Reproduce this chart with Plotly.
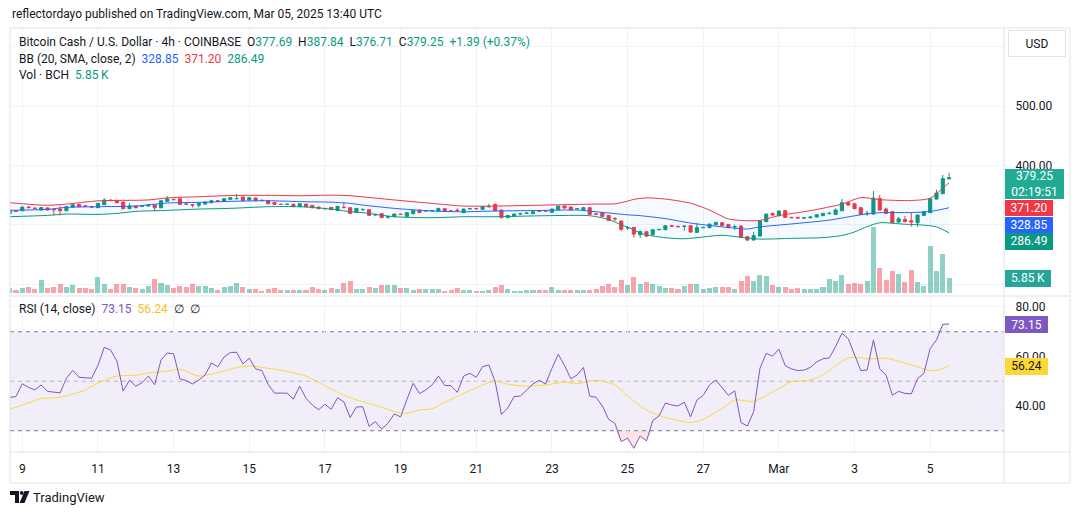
import plotly.graph_objects as go
import pandas as pd

# ---------------- data ----------------
start = "2025-02-08 16:00"
n_candles = 150
dates = pd.date_range(start, periods=n_candles, freq="4h")

opens = [
    319.3, 323.5, 323.8, 330.0, 328.5, 325.0, 328.5, 326.0, 326.5, 323.8,
    329.9, 334.5, 332.0, 330.5, 329.0, 334.0, 341.8, 341.3, 338.4, 327.2,
    331.7, 331.0, 331.7, 333.4, 328.9, 339.6, 343.0, 344.0, 335.3, 334.0,
    333.0, 335.0, 337.3, 340.5, 339.6, 343.0, 344.0, 346.9, 341.8, 345.2,
    341.5, 340.7, 337.9, 334.8, 334.3, 334.5, 330.6, 335.0, 332.8, 330.0,
    327.0, 329.5, 324.4, 329.5, 328.9, 321.0, 325.5, 325.5, 316.5, 318.8,
    313.0, 313.7, 318.0, 314.3, 318.8, 325.0, 323.5, 323.5, 323.3, 327.2,
    323.5, 324.6, 320.5, 326.9, 327.5, 326.0, 330.3, 334.5, 325.0, 312.0,
    314.3, 318.2, 319.5, 318.8, 323.3, 323.5, 321.1, 325.5, 331.7, 330.0,
    326.9, 325.5, 328.9, 318.5, 320.5, 316.0, 310.5, 306.4, 295.0, 295.7,
    283.5, 288.4, 283.3, 291.8, 291.8, 298.5, 297.5, 297.3, 298.5, 287.3,
    295.2, 295.2, 300.2, 303.6, 300.8, 296.3, 297.9, 279.9, 274.4, 281.1,
    305.3, 319.3, 315.4, 323.8, 312.6, 312.6, 311.5, 311.8, 313.2, 315.4,
    318.8, 317.6, 323.8, 337.3, 335.6, 328.9, 318.8, 318.2, 344.6, 326.6,
    322.1, 304.7, 309.2, 307.0, 303.6, 315.9, 320.5, 343.5, 352.5, 377.69,
]
highs = [
    325.5, 324.0, 330.8, 330.8, 329.0, 330.5, 329.5, 326.5, 331.5, 331.0,
    334.5, 335.0, 332.5, 331.0, 336.5, 345.0, 342.5, 342.0, 338.8, 336.2,
    332.0, 332.5, 334.0, 334.0, 341.0, 348.5, 343.5, 344.5, 335.5, 334.5,
    337.0, 339.0, 341.5, 341.0, 344.5, 346.5, 352.0, 347.5, 346.5, 345.8,
    342.5, 341.0, 338.5, 335.5, 335.5, 336.0, 336.5, 335.5, 333.5, 330.5,
    328.5, 330.0, 331.5, 337.9, 329.5, 328.5, 327.5, 326.0, 318.5, 319.3,
    314.5, 318.8, 318.5, 321.0, 325.0, 325.5, 324.5, 325.0, 328.5, 327.8,
    324.0, 327.8, 327.2, 328.5, 328.0, 331.2, 335.6, 336.0, 325.5, 316.5,
    318.8, 320.5, 321.0, 322.7, 323.5, 324.0, 327.2, 332.2, 332.8, 330.6,
    328.3, 330.0, 330.0, 319.0, 321.0, 316.5, 313.0, 307.0, 298.0, 296.5,
    290.2, 289.0, 292.3, 293.0, 299.0, 299.0, 298.5, 299.0, 299.0, 302.5,
    296.5, 301.8, 304.5, 304.5, 301.3, 300.2, 298.5, 280.5, 288.4, 307.0,
    318.8, 320.5, 324.0, 324.4, 313.5, 313.0, 312.5, 314.5, 317.6, 320.0,
    322.2, 327.8, 343.5, 338.0, 336.2, 329.5, 323.8, 357.0, 350.2, 328.9,
    322.7, 313.2, 314.8, 321.0, 317.0, 322.7, 344.6, 359.2, 384.0, 387.84,
]
lows = [
    318.5, 322.0, 323.2, 328.5, 327.0, 324.5, 324.5, 316.0, 316.0, 323.0,
    329.5, 330.0, 331.0, 329.5, 328.5, 333.5, 340.5, 336.5, 326.5, 326.5,
    328.0, 330.5, 331.0, 322.7, 328.0, 339.0, 342.0, 334.0, 334.0, 329.5,
    329.5, 334.5, 337.0, 339.5, 339.0, 342.5, 343.0, 340.0, 341.0, 340.0,
    340.0, 335.0, 334.0, 333.5, 333.8, 330.0, 330.0, 330.0, 328.0, 326.5,
    325.5, 325.0, 324.0, 328.5, 318.5, 320.0, 324.5, 315.5, 315.0, 311.5,
    310.0, 313.0, 317.0, 313.5, 318.0, 320.0, 322.8, 323.0, 322.8, 322.0,
    322.5, 322.0, 320.0, 326.5, 326.5, 325.5, 330.0, 323.0, 311.5, 311.5,
    313.7, 317.6, 319.0, 318.2, 322.5, 322.8, 320.5, 325.0, 327.8, 324.5,
    326.4, 325.0, 317.0, 316.5, 313.7, 307.0, 306.5, 290.0, 291.0, 278.3,
    277.8, 278.8, 282.8, 291.0, 291.0, 297.0, 296.0, 290.0, 287.0, 286.5,
    294.5, 294.6, 299.5, 298.5, 294.6, 291.2, 278.0, 272.7, 273.8, 280.5,
    304.7, 316.0, 315.0, 312.0, 311.5, 311.0, 311.0, 311.0, 312.6, 315.0,
    318.0, 317.0, 323.3, 332.8, 326.6, 317.0, 315.4, 317.6, 324.4, 318.8,
    303.0, 304.0, 304.7, 296.9, 296.9, 315.4, 320.0, 343.0, 352.0, 376.71,
]
closes = [
    325.0, 322.8, 330.0, 329.0, 327.5, 329.0, 325.0, 325.5, 324.0, 330.6,
    334.0, 330.6, 331.5, 330.0, 336.2, 341.8, 341.0, 337.3, 327.2, 331.7,
    328.9, 331.7, 333.4, 328.9, 340.7, 344.0, 342.5, 334.5, 334.9, 333.4,
    336.2, 338.4, 340.7, 340.0, 344.0, 345.8, 344.5, 340.7, 345.8, 340.7,
    341.0, 335.6, 334.5, 334.3, 334.8, 330.6, 335.6, 330.6, 328.9, 327.2,
    327.6, 325.5, 331.2, 329.0, 319.3, 327.8, 326.0, 316.0, 317.6, 312.0,
    313.7, 318.2, 317.6, 320.5, 324.4, 320.5, 323.9, 324.0, 327.8, 322.7,
    323.3, 324.4, 326.6, 327.4, 327.2, 330.6, 330.8, 323.8, 312.0, 316.0,
    318.2, 318.6, 320.0, 322.2, 323.0, 323.3, 326.6, 331.7, 328.3, 325.0,
    327.4, 328.9, 317.6, 318.1, 314.3, 307.5, 310.3, 292.4, 295.4, 284.5,
    288.8, 281.1, 291.8, 292.3, 298.5, 297.5, 296.9, 297.9, 287.9, 295.2,
    295.7, 301.3, 304.1, 299.1, 295.2, 296.9, 278.9, 274.4, 281.7, 306.4,
    318.2, 316.5, 323.3, 312.6, 312.0, 311.5, 311.8, 313.2, 317.1, 319.3,
    319.3, 325.0, 337.3, 333.4, 327.2, 317.6, 319.3, 345.2, 325.0, 319.3,
    303.6, 310.3, 305.3, 304.7, 316.5, 322.1, 344.1, 353.6, 377.86, 379.25,
]
volumes_k = [
    2.0, 1.25, 2.0, 2.4, 1.6, 5.0, 2.0, 2.4, 3.5, 2.4,
    3.1, 2.0, 2.0, 1.6, 6.1, 3.5, 1.6, 3.5, 3.5, 2.4,
    2.0, 1.6, 2.75, 5.4, 3.9, 3.1, 2.0, 2.75, 2.4, 3.5,
    2.75, 2.75, 2.0, 1.25, 2.4, 2.75, 3.9, 2.4, 1.6, 1.6,
    0.9, 1.6, 2.0, 1.25, 1.25, 1.25, 1.25, 1.25, 2.4, 1.6,
    1.25, 2.0, 1.6, 3.9, 4.6, 1.6, 1.6, 2.4, 2.0, 3.1,
    3.1, 3.1, 2.0, 2.0, 1.25, 1.6, 1.6, 1.6, 1.6, 0.9,
    1.25, 2.0, 1.25, 1.25, 0.9, 0.9, 1.25, 2.4, 3.1, 1.6,
    0.9, 0.9, 1.25, 1.25, 1.25, 1.25, 2.4, 1.25, 1.25, 1.25,
    1.25, 1.25, 1.25, 1.6, 2.75, 3.5, 2.4, 5.0, 3.1, 6.1,
    3.5, 4.25, 3.5, 2.75, 2.0, 2.0, 1.6, 2.75, 3.5, 3.5,
    1.6, 2.0, 2.4, 2.4, 2.4, 1.6, 4.6, 6.5, 4.6, 6.9,
    6.5, 3.1, 2.4, 2.4, 1.6, 2.0, 1.6, 1.6, 1.6, 2.4,
    5.4, 4.6, 6.9, 3.5, 3.9, 3.5, 4.6, 25.0, 9.5, 5.0,
    8.4, 7.25, 4.25, 8.75, 4.25, 2.75, 17.75, 8.4, 14.75, 5.85,
]
rsi = [
    43.5, 43.8, 49.0, 47.5, 46.5, 48.5, 45.9, 45.7, 45.3, 51.2,
    54.4, 51.6, 51.4, 51.2, 56.4, 63.7, 62.6, 58.2, 46.0, 50.4,
    48.0, 49.4, 52.1, 48.6, 58.6, 61.4, 61.1, 51.0, 50.2, 48.9,
    50.5, 52.5, 57.4, 55.8, 59.8, 61.6, 61.7, 57.0, 59.3, 55.0,
    54.3, 48.7, 45.2, 45.2, 45.2, 42.8, 48.0, 43.1, 40.4, 38.5,
    40.7, 38.7, 43.3, 41.7, 35.3, 39.6, 39.7, 31.8, 33.7, 30.7,
    33.0, 36.8, 35.6, 42.6, 49.2, 45.0, 46.5, 48.5, 52.1, 48.3,
    48.2, 45.5, 52.1, 53.2, 51.6, 55.9, 56.6, 49.8, 36.6, 39.2,
    43.8, 44.0, 46.5, 48.9, 50.4, 48.9, 55.2, 60.9, 56.4, 51.0,
    52.5, 55.6, 44.0, 43.5, 40.0, 34.6, 33.0, 25.6, 27.0, 22.9,
    27.9, 25.9, 34.1, 36.0, 41.2, 40.4, 40.0, 41.5, 35.6, 42.4,
    44.3, 48.5, 50.5, 47.4, 44.3, 46.1, 33.3, 31.9, 37.7, 55.2,
    61.3, 60.1, 63.0, 56.3, 55.0, 54.3, 54.5, 55.6, 57.8, 59.1,
    59.4, 64.0, 69.4, 67.2, 60.6, 54.3, 54.5, 66.7, 55.0, 52.5,
    44.4, 45.9, 45.1, 44.9, 51.0, 53.2, 63.2, 66.7, 73.0, 73.15,
]
rsi_ma_idx = [0, 3, 5, 8, 12, 14, 17, 20, 22, 25, 27, 30, 33, 36, 38, 41, 43, 47, 50,
              53, 56, 59, 61, 63, 65, 67, 69, 72, 75, 77, 79, 82, 85, 88, 90, 93, 96,
              98, 101, 104, 108, 110, 113, 115, 118, 122, 124, 127, 129, 131, 133, 135,
              136, 139, 143, 146, 147, 149]
rsi_ma = [38.6, 41.3, 43.0, 43.5, 46.5, 49.2, 52.1, 52.4, 53.3, 54.1, 54.8, 52.1, 53.5,
          55.5, 56.2, 55.2, 54.5, 52.1, 48.2, 44.3, 41.7, 39.5, 37.7, 37.0, 38.4, 38.9,
          41.5, 45.1, 48.5, 50.1, 48.8, 48.0, 48.5, 49.6, 49.0, 50.4, 48.5, 44.0, 38.4,
          35.4, 33.3, 34.6, 39.0, 42.4, 41.9, 47.1, 49.8, 50.5, 52.5, 56.2, 59.5, 59.5,
          59.0, 59.3, 56.6, 54.3, 54.3, 56.24]

bb_up_idx = [0, 6, 9, 14, 22, 25, 30, 35, 41, 46, 51, 54, 61, 67, 72, 77, 85, 93, 96,
             98, 99, 101, 104, 108, 111, 114, 117, 119, 122, 127, 132, 135, 138, 143,
             146, 148, 149]
bb_up = [337.3, 333.0, 335.0, 340.5, 342.0, 345.5, 347.4, 349.5, 349.7, 349.1, 350.0,
         349.1, 342.0, 336.2, 331.7, 331.7, 333.4, 335.1, 335.5, 340.0, 343.0, 345.5,
         343.5, 336.5, 325.0, 310.0, 307.0, 307.5, 315.5, 324.0, 335.0, 346.0, 342.5,
         341.0, 345.0, 362.0, 371.20]
bb_mid_idx = [0, 6, 9, 14, 20, 25, 30, 35, 41, 46, 51, 54, 56, 61, 67, 72, 77, 85, 90,
              93, 98, 100, 104, 108, 111, 114, 117, 119, 124, 130, 135, 138, 143, 146, 149]
bb_mid = [324.4, 326.1, 329.5, 330.6, 331.7, 336.8, 337.9, 339.6, 340.7, 339.2, 338.2,
          336.2, 333.4, 327.8, 323.3, 322.1, 323.3, 324.4, 325.0, 322.1, 317.0, 315.5,
          310.5, 303.0, 299.0, 295.5, 293.0, 296.5, 301.5, 308.0, 317.0, 320.5, 320.8,
          322.5, 328.85]
bb_lo_idx = [0, 6, 9, 14, 17, 20, 25, 30, 35, 41, 46, 51, 54, 56, 61, 67, 72, 77, 85,
             92, 95, 97, 99, 100, 101, 104, 107, 110, 113, 116, 119, 124, 129, 132, 134,
             136, 138, 142, 145, 147, 149]
bb_lo = [313.7, 316.0, 318.2, 317.6, 319.3, 322.7, 324.4, 326.6, 327.8, 330.6, 330.6,
         326.6, 322.1, 320.5, 313.7, 312.0, 313.7, 313.7, 315.4, 315.4, 309.0, 300.0,
         291.5, 286.0, 283.0, 278.3, 276.5, 279.5, 282.5, 278.9, 276.0, 277.2, 278.5,
         282.0, 288.0, 297.0, 303.5, 301.0, 299.5, 296.5, 286.49]

tick_dates = ["2025-02-09", "2025-02-11", "2025-02-13", "2025-02-15", "2025-02-17",
              "2025-02-19", "2025-02-21", "2025-02-23", "2025-02-25", "2025-02-27",
              "2025-03-01", "2025-03-03", "2025-03-05"]
tick_labels = ["9", "11", "13", "15", "17", "19", "21", "23", "25", "27", "Mar", "3", "5"]
countdown = "02:19:51"

# ---------------- layout constants (pixels) ----------------
W, H = 1080, 515
PL, PR, PT, PB = 10, 1004, 28, 452
SPLIT = 296
X_RANGE = ["2025-02-08 16:12", "2025-03-06 22:50"]
PRICE_RANGE = [180.0, 632.0]
VOL_RANGE = [-1000, 99400]
RSI_RANGE = [21.41, 84.44]

UP, DN = "#089981", "#F23645"
TXT = "#131722"
GRID = "#f0f3fa"
BORDER = "#e0e3eb"
FONT = "Roboto, 'Noto Sans', sans-serif"


def px(x):
    return (x - PL) / (PR - PL)


def py(y):
    return (PB - y) / (PB - PT)


dsplit = py(SPLIT)

fig = go.Figure()

# volume (base axis of top pane)
vol_colors = ["rgba(8,153,129,0.45)" if c >= o else "rgba(242,54,69,0.45)"
              for o, c in zip(opens, closes)]
fig.add_trace(go.Bar(x=dates, y=[v * 1000 for v in volumes_k],
                     marker=dict(color=vol_colors, line=dict(width=0)),
                     width=4 * 3600 * 1000 * 0.8, xaxis="x2", yaxis="y",
                     hoverinfo="skip"))

# Bollinger bands
fig.add_trace(go.Scatter(x=dates[bb_lo_idx], y=bb_lo, mode="lines",
                         line=dict(color=UP, width=1, shape="spline", smoothing=0.7),
                         xaxis="x2", yaxis="y2", hoverinfo="skip"))
fig.add_trace(go.Scatter(x=dates[bb_up_idx], y=bb_up, mode="lines",
                         line=dict(color=DN, width=1, shape="spline", smoothing=0.7),
                         fill="tonexty", fillcolor="rgba(33,150,243,0.05)",
                         xaxis="x2", yaxis="y2", hoverinfo="skip"))
fig.add_trace(go.Scatter(x=dates[bb_mid_idx], y=bb_mid, mode="lines",
                         line=dict(color="#2962FF", width=1, shape="spline", smoothing=0.7),
                         xaxis="x2", yaxis="y2", hoverinfo="skip"))

# candles
fig.add_trace(go.Candlestick(
    x=dates, open=opens, high=highs, low=lows, close=closes,
    increasing=dict(line=dict(color=UP, width=1), fillcolor=UP),
    decreasing=dict(line=dict(color=DN, width=1), fillcolor=DN),
    whiskerwidth=0, xaxis="x2", yaxis="y2", hoverinfo="skip"))

# RSI oversold / overbought fills
os_idx = [i for i in range(n_candles) if rsi[i] < 30 or
          (i > 0 and rsi[i - 1] < 30) or (i < n_candles - 1 and rsi[i + 1] < 30)]
fig.add_trace(go.Scatter(x=dates[os_idx], y=[30] * len(os_idx), mode="lines",
                         line=dict(width=0), xaxis="x", yaxis="y3", hoverinfo="skip"))
fig.add_trace(go.Scatter(x=dates[os_idx], y=[min(rsi[i], 30) for i in os_idx],
                         mode="lines", line=dict(width=0), fill="tonexty",
                         fillcolor="rgba(242,54,69,0.13)", xaxis="x", yaxis="y3",
                         hoverinfo="skip"))
ob_idx = [i for i in range(n_candles) if rsi[i] > 70 or
          (i < n_candles - 1 and rsi[i + 1] > 70)]
fig.add_trace(go.Scatter(x=dates[ob_idx], y=[70] * len(ob_idx), mode="lines",
                         line=dict(width=0), xaxis="x", yaxis="y3", hoverinfo="skip"))
fig.add_trace(go.Scatter(x=dates[ob_idx], y=[max(rsi[i], 70) for i in ob_idx],
                         mode="lines", line=dict(width=0), fill="tonexty",
                         fillcolor="rgba(8,153,129,0.10)", xaxis="x", yaxis="y3",
                         hoverinfo="skip"))

# RSI and its MA
fig.add_trace(go.Scatter(x=dates[rsi_ma_idx], y=rsi_ma, mode="lines",
                         line=dict(color="#FDD835", width=1, shape="spline", smoothing=0.7),
                         xaxis="x", yaxis="y3", hoverinfo="skip"))
fig.add_trace(go.Scatter(x=dates, y=rsi, mode="lines",
                         line=dict(color="#7E57C2", width=1),
                         xaxis="x", yaxis="y3", hoverinfo="skip"))

shapes = [
    # RSI band
    dict(type="rect", xref="paper", yref="y3", x0=0, x1=1, y0=30, y1=70,
         fillcolor="rgba(126,87,194,0.10)", line=dict(width=0), layer="below"),
    dict(type="line", xref="paper", yref="y3", x0=0, x1=1, y0=70, y1=70,
         line=dict(color="#787B86", width=1, dash="4px,4px"), layer="below"),
    dict(type="line", xref="paper", yref="y3", x0=0, x1=1, y0=50, y1=50,
         line=dict(color="rgba(120,123,134,0.5)", width=1, dash="4px,4px"), layer="below"),
    dict(type="line", xref="paper", yref="y3", x0=0, x1=1, y0=30, y1=30,
         line=dict(color="#787B86", width=1, dash="4px,4px"), layer="below"),
]
# frame / separators
for (x0, y0, x1, y1) in [(PL, PT, 1070, PT), (PL, PT, PL, 483), (1070, PT, 1070, 483),
                         (PL, 483, 1070, 483), (PR, PT, PR, 483),
                         (PL, SPLIT, 1070, SPLIT), (PL, PB, 1070, PB)]:
    shapes.append(dict(type="line", xref="paper", yref="paper",
                       x0=px(x0), y0=py(y0), x1=px(x1), y1=py(y1),
                       line=dict(color=BORDER, width=1), layer="above"))


# TradingView logo (simple glyph)
def path_px(points):
    return "M " + " L ".join(f"{px(x):.5f},{py(y):.5f}" for x, y in points) + " Z"


shapes += [
    dict(type="path", xref="paper", yref="paper", path=path_px(
        [(10, 491), (19, 491), (19, 503), (15, 503), (15, 495), (10, 495)]),
         fillcolor=TXT, line=dict(width=0), layer="above"),
    dict(type="circle", xref="paper", yref="paper", x0=px(19.8), x1=px(23.6),
         y0=py(494.8), y1=py(491), fillcolor=TXT, line=dict(width=0), layer="above"),
    dict(type="path", xref="paper", yref="paper", path=path_px(
        [(24.5, 491), (29.5, 491), (24.5, 503), (19.5, 503)]),
         fillcolor=TXT, line=dict(width=0), layer="above"),
]


def span(txt, col):
    return f'<span style="color:{col}">{txt}</span>'


sp = "\u00a0\u00a0"
chg = closes[-1] - closes[-2]
pct = chg / closes[-2] * 100
line1 = ("Bitcoin Cash / U.S. Dollar · 4h · COINBASE" + sp +
         "O" + span(f"{opens[-1]:.2f}", UP) + sp +
         "H" + span(f"{highs[-1]:.2f}", UP) + sp +
         "L" + span(f"{lows[-1]:.2f}", UP) + sp +
         "C" + span(f"{closes[-1]:.2f}", UP) + sp +
         span(f"{chg:+.2f} ({pct:+.2f}%)", UP))
line2 = ("BB (20, SMA, close, 2)" + sp + span(f"{bb_mid[-1]:.2f}", "#2962FF") + sp +
         span(f"{bb_up[-1]:.2f}", DN) + sp + span(f"{bb_lo[-1]:.2f}", UP))
line3 = "Vol · BCH" + sp + span(f"{volumes_k[-1]:.2f}\u2009K", UP)
line4 = ("RSI (14, close)" + sp + span(f"{rsi[-1]:.2f}", "#7E57C2") + sp +
         span(f"{rsi_ma[-1]:.2f}", "#F5C518") + sp + "∅" + sp + "∅")


def ann(x, y, text, **kw):
    d = dict(xref="paper", yref="paper", x=px(x), y=py(y), text=text, showarrow=False,
             xanchor="left", yanchor="middle", font=dict(family=FONT, size=12, color=TXT))
    d.update(kw)
    return d


def label(y0, y1, text, bg, w, fc="white"):
    return dict(xref="paper", yref="paper", x=px(PR + 0.5), y=py((y0 + y1) / 2),
                xanchor="left", yanchor="middle", text=text, showarrow=False,
                bgcolor=bg, width=w, height=y1 - y0, borderpad=0, borderwidth=0,
                align="center", valign="middle",
                font=dict(family=FONT, size=12, color=fc))


annotations = [
    ann(10, 14, "reflectordayo published on TradingView.com, Mar 05, 2025 13:40 UTC"),
    ann(17, 42, line1),
    ann(17, 59, line2),
    ann(17, 75, line3),
    ann(17, 309, line4),
    ann(31, 497, "TradingView", font=dict(family=FONT, size=13, color=TXT)),
    dict(xref="paper", yref="paper", x=px(1008), y=py(43.5), xanchor="left",
         yanchor="middle", text="USD", showarrow=False, bgcolor="white",
         bordercolor=BORDER, borderwidth=1, borderpad=0, width=56, height=25,
         align="center", font=dict(family=FONT, size=12, color=TXT)),
    label(169, 199, f"{closes[-1]:.2f}<br>{countdown}", "#22AB94", 59),
    label(200, 216, f"{bb_up[-1]:.2f}", DN, 48),
    label(216.5, 232.5, f"{bb_mid[-1]:.2f}", "#2962FF", 48),
    label(233, 249.5, f"{bb_lo[-1]:.2f}", UP, 48),
    label(270, 286.5, f"{volumes_k[-1]:.2f}\u2009K", "#26A69A", 46),
    label(316, 333, f"{rsi[-1]:.2f}", "#7E57C2", 43),
    label(358, 374.5, f"{rsi_ma[-1]:.2f}", "#FDD835", 43, fc=TXT),
]

fig.update_layout(
    width=W, height=H,
    margin=dict(l=PL, r=W - PR, t=PT, b=H - PB, pad=0),
    paper_bgcolor="white", plot_bgcolor="white", showlegend=False,
    font=dict(family=FONT, size=12, color=TXT),
    bargap=0, hovermode=False,
    xaxis=dict(domain=[0, 1], anchor="y3", type="date", range=X_RANGE,
               tickvals=tick_dates, ticktext=tick_labels, showgrid=True,
               gridcolor=GRID, gridwidth=1, ticks="outside", ticklen=6,
               tickcolor="rgba(0,0,0,0)", zeroline=False, showline=False,
               rangeslider=dict(visible=False), tickfont=dict(size=12, color=TXT)),
    xaxis2=dict(matches="x", anchor="y", type="date", tickvals=tick_dates,
                showticklabels=False, showgrid=True, gridcolor=GRID, gridwidth=1,
                zeroline=False, showline=False, rangeslider=dict(visible=False)),
    yaxis=dict(domain=[dsplit, 1], anchor="x2", range=VOL_RANGE, visible=False,
               showgrid=False, zeroline=False),
    yaxis2=dict(overlaying="y", anchor="x2", side="right", range=PRICE_RANGE,
                tickvals=[200, 300, 400, 500, 600],
                ticktext=["", "", "400.00", "500.00", ""],
                showgrid=True, gridcolor=GRID, zeroline=False, showline=False,
                ticks="outside", ticklen=8, tickcolor="rgba(0,0,0,0)",
                tickfont=dict(size=12, color=TXT)),
    yaxis3=dict(domain=[0, dsplit], anchor="x", side="right", range=RSI_RANGE,
                tickvals=[40, 60, 80], ticktext=["40.00", "60.00", "80.00"],
                showgrid=True, gridcolor=GRID, zeroline=False, showline=False,
                ticks="outside", ticklen=8, tickcolor="rgba(0,0,0,0)",
                tickfont=dict(size=12, color=TXT)),
    shapes=shapes, annotations=annotations,
)

fig.write_html("out.html", config={"displayModeBar": False})
